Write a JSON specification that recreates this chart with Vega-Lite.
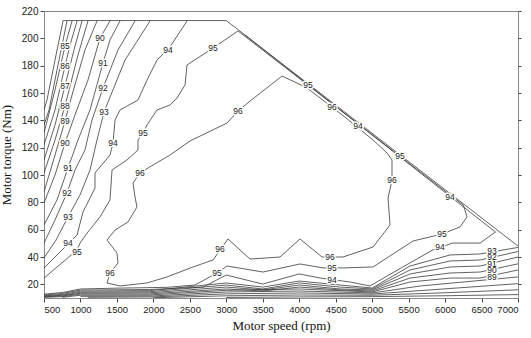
{
"$schema":"https://vega.github.io/schema/vega-lite/v6.json",
"width":474,"height":287,"autosize":"none",
"padding":{"left":44,"top":11,"right":13,"bottom":40},
"background":"white",
"config":{"view":{"stroke":"#888","strokeWidth":1},"axis":{"grid":false,"labelFont":"Liberation Sans","labelFontSize":10,"labelColor":"#222","tickColor":"#444","domainColor":"#888","titleFont":"Liberation Serif","titleFontSize":13,"titleFontWeight":"normal","titleColor":"#111"}},
"datasets":{
"lines":[
{"id":"env","i":0,"speed":760,"torque":213},{"id":"env","i":1,"speed":3000,"torque":213},{"id":"env","i":2,"speed":7000,"torque":48},
{"id":"c83","i":0,"speed":761,"torque":212.7},{"id":"c83","i":1,"speed":651,"torque":184.1},{"id":"c83","i":2,"speed":541,"torque":154.9},{"id":"c83","i":3,"speed":500,"torque":147.6},
{"id":"c84","i":0,"speed":815,"torque":212.7},{"id":"c84","i":1,"speed":692,"torque":180.5},{"id":"c84","i":2,"speed":569,"torque":147.6},{"id":"c84","i":3,"speed":500,"torque":136.6},
{"id":"c85","i":0,"speed":884,"torque":212.7},{"id":"c85","i":1,"speed":788,"torque":194.4},{"id":"c85","i":2,"speed":651,"torque":162.2},{"id":"c85","i":3,"speed":500,"torque":130.7},
{"id":"c86","i":0,"speed":953,"torque":212.7},{"id":"c86","i":1,"speed":857,"torque":195.1},{"id":"c86","i":2,"speed":788,"torque":179.8},{"id":"c86","i":3,"speed":651,"torque":147.6},{"id":"c86","i":4,"speed":500,"torque":122},
{"id":"c87","i":0,"speed":1021,"torque":212.7},{"id":"c87","i":1,"speed":911,"torque":191.5},{"id":"c87","i":2,"speed":788,"torque":165.1},{"id":"c87","i":3,"speed":651,"torque":136.6},{"id":"c87","i":4,"speed":500,"torque":111},
{"id":"c88","i":0,"speed":1103,"torque":212.7},{"id":"c88","i":1,"speed":966,"torque":187.8},{"id":"c88","i":2,"speed":788,"torque":150.5},{"id":"c88","i":3,"speed":651,"torque":125.6},{"id":"c88","i":4,"speed":500,"torque":101.5},
{"id":"c89","i":0,"speed":1227,"torque":212.7},{"id":"c89","i":1,"speed":1062,"torque":191.5},{"id":"c89","i":2,"speed":884,"torque":158.5},{"id":"c89","i":3,"speed":788,"torque":139.5},{"id":"c89","i":4,"speed":651,"torque":114.6},{"id":"c89","i":5,"speed":500,"torque":87.6},
{"id":"c90","i":0,"speed":1405,"torque":212.7},{"id":"c90","i":1,"speed":1268,"torque":200.2},{"id":"c90","i":2,"speed":1103,"torque":169.5},{"id":"c90","i":3,"speed":925,"torque":143.9},{"id":"c90","i":4,"speed":788,"torque":123.4},{"id":"c90","i":5,"speed":651,"torque":100},{"id":"c90","i":6,"speed":500,"torque":79.5},
{"id":"c91","i":0,"speed":1542,"torque":212.7},{"id":"c91","i":1,"speed":1405,"torque":198.8},{"id":"c91","i":2,"speed":1309,"torque":182},{"id":"c91","i":3,"speed":1131,"torque":147.6},{"id":"c91","i":4,"speed":966,"torque":125.6},{"id":"c91","i":5,"speed":829,"torque":105.1},{"id":"c91","i":6,"speed":678,"torque":81.7},{"id":"c91","i":7,"speed":500,"torque":63.4},
{"id":"c92","i":0,"speed":1748,"torque":212.7},{"id":"c92","i":1,"speed":1515,"torque":191.5},{"id":"c92","i":2,"speed":1309,"torque":163.7},{"id":"c92","i":3,"speed":1158,"torque":140.2},{"id":"c92","i":4,"speed":1062,"torque":118.3},{"id":"c92","i":5,"speed":925,"torque":103.7},{"id":"c92","i":6,"speed":815,"torque":86.8},{"id":"c92","i":7,"speed":651,"torque":67.1},{"id":"c92","i":8,"speed":500,"torque":50.2},
{"id":"c93","i":0,"speed":1954,"torque":212.7},{"id":"c93","i":1,"speed":1611,"torque":184.1},{"id":"c93","i":2,"speed":1323,"torque":146.1},{"id":"c93","i":3,"speed":1227,"torque":125.6},{"id":"c93","i":4,"speed":1131,"torque":103.7},{"id":"c93","i":5,"speed":994,"torque":85.4},{"id":"c93","i":6,"speed":829,"torque":69.3},{"id":"c93","i":7,"speed":665,"torque":52.4},{"id":"c93","i":8,"speed":500,"torque":39.3},
{"id":"c94","i":0,"speed":2461,"torque":212.7},{"id":"c94","i":1,"speed":2228,"torque":193.7},{"id":"c94","i":2,"speed":2050,"torque":184.1},{"id":"c94","i":3,"speed":1913,"torque":169.5},{"id":"c94","i":4,"speed":1789,"torque":154.9},{"id":"c94","i":5,"speed":1542,"torque":147.6},{"id":"c94","i":6,"speed":1474,"torque":140.2},{"id":"c94","i":7,"speed":1446,"torque":123.4},{"id":"c94","i":8,"speed":1405,"torque":114.6},{"id":"c94","i":9,"speed":1199,"torque":101.5},{"id":"c94","i":10,"speed":1199,"torque":90.5},{"id":"c94","i":11,"speed":1035,"torque":72.9},{"id":"c94","i":12,"speed":953,"torque":56.1},{"id":"c94","i":13,"speed":857,"torque":51},{"id":"c94","i":14,"speed":500,"torque":31.9},
{"id":"c95a","i":0,"speed":3160,"torque":205.4},{"id":"c95a","i":1,"speed":2818,"torque":192.9},{"id":"c95a","i":2,"speed":2461,"torque":180.5},{"id":"c95a","i":3,"speed":2434,"torque":165.9},{"id":"c95a","i":4,"speed":2324,"torque":156.3},{"id":"c95a","i":5,"speed":2228,"torque":151.2},{"id":"c95a","i":6,"speed":2050,"torque":147.6},{"id":"c95a","i":7,"speed":1913,"torque":136.6},{"id":"c95a","i":8,"speed":1858,"torque":130.7},{"id":"c95a","i":9,"speed":1789,"torque":125.6},{"id":"c95a","i":10,"speed":1789,"torque":118.3},{"id":"c95a","i":11,"speed":1638,"torque":111},{"id":"c95a","i":12,"speed":1433,"torque":103.7},{"id":"c95a","i":13,"speed":1405,"torque":81.7},{"id":"c95a","i":14,"speed":1268,"torque":69.3},{"id":"c95a","i":15,"speed":1103,"torque":58.3},{"id":"c95a","i":16,"speed":994,"torque":50.2},{"id":"c95a","i":17,"speed":953,"torque":45.1},{"id":"c95a","i":18,"speed":500,"torque":24.6},
{"id":"c95d","i":0,"speed":3160,"torque":205.4},{"id":"c95d","i":1,"speed":4000,"torque":170.7},{"id":"c95d","i":2,"speed":5000,"torque":129.5},{"id":"c95d","i":3,"speed":6000,"torque":88.2},{"id":"c95d","i":4,"speed":6250,"torque":78},{"id":"c95d","i":5,"speed":6301,"torque":69.3},{"id":"c95d","i":6,"speed":6205,"torque":62},{"id":"c95d","i":7,"speed":5959,"torque":56.8},{"id":"c95d","i":8,"speed":5560,"torque":51.7},{"id":"c95d","i":9,"speed":5012,"torque":32.7},{"id":"c95d","i":10,"speed":4600,"torque":32},{"id":"c95d","i":11,"speed":4326,"torque":32},{"id":"c95d","i":12,"speed":4011,"torque":34.9},{"id":"c95d","i":13,"speed":3503,"torque":29},{"id":"c95d","i":14,"speed":3010,"torque":33.4},{"id":"c95d","i":15,"speed":2872,"torque":28.3},{"id":"c95d","i":16,"speed":2571,"torque":19.5},{"id":"c95d","i":17,"speed":2187,"torque":17.8},{"id":"c95d","i":18,"speed":1500,"torque":17.2},{"id":"c95d","i":19,"speed":1000,"torque":16.6},{"id":"c95d","i":20,"speed":750,"torque":14},{"id":"c95d","i":21,"speed":500,"torque":12.8},
{"id":"c94L","i":0,"speed":3250,"torque":202.7},{"id":"c94L","i":1,"speed":6690,"torque":58.3},{"id":"c94L","i":2,"speed":6480,"torque":50.2},{"id":"c94L","i":3,"speed":6100,"torque":50.2},{"id":"c94L","i":4,"speed":5830,"torque":45.1},{"id":"c94L","i":5,"speed":5420,"torque":32.7},{"id":"c94L","i":6,"speed":4970,"torque":18.8},{"id":"c94L","i":7,"speed":4700,"torque":21.7},{"id":"c94L","i":8,"speed":4290,"torque":24.6},{"id":"c94L","i":9,"speed":4000,"torque":27.6},{"id":"c94L","i":10,"speed":3500,"torque":20.2},{"id":"c94L","i":11,"speed":3000,"torque":26.8},{"id":"c94L","i":12,"speed":2680,"torque":18},{"id":"c94L","i":13,"speed":1950,"torque":16.2},{"id":"c94L","i":14,"speed":1000,"torque":15.8},{"id":"c94L","i":15,"speed":750,"torque":13.3},{"id":"c94L","i":16,"speed":500,"torque":12.2},
{"id":"c93b","i":0,"speed":500,"torque":11.6},{"id":"c93b","i":1,"speed":750,"torque":12.6},{"id":"c93b","i":2,"speed":1000,"torque":15},{"id":"c93b","i":3,"speed":1950,"torque":15.4},{"id":"c93b","i":4,"speed":3000,"torque":21},{"id":"c93b","i":5,"speed":3500,"torque":18},{"id":"c93b","i":6,"speed":4000,"torque":22.4},{"id":"c93b","i":7,"speed":4560,"torque":19.5},{"id":"c93b","i":8,"speed":5000,"torque":17.3},{"id":"c93b","i":9,"speed":5520,"torque":33.4},{"id":"c93b","i":10,"speed":6070,"torque":41.5},{"id":"c93b","i":11,"speed":6480,"torque":42.2},{"id":"c93b","i":12,"speed":7000,"torque":47},
{"id":"c92b","i":0,"speed":500,"torque":11.2},{"id":"c92b","i":1,"speed":750,"torque":12},{"id":"c92b","i":2,"speed":1000,"torque":14.2},{"id":"c92b","i":3,"speed":1950,"torque":14.6},{"id":"c92b","i":4,"speed":3000,"torque":19.5},{"id":"c92b","i":5,"speed":3500,"torque":16.6},{"id":"c92b","i":6,"speed":4000,"torque":21},{"id":"c92b","i":7,"speed":4560,"torque":18},{"id":"c92b","i":8,"speed":5000,"torque":16.6},{"id":"c92b","i":9,"speed":5520,"torque":30.5},{"id":"c92b","i":10,"speed":6070,"torque":37.1},{"id":"c92b","i":11,"speed":6480,"torque":37.8},{"id":"c92b","i":12,"speed":7000,"torque":44},
{"id":"c91b","i":0,"speed":500,"torque":10.9},{"id":"c91b","i":1,"speed":750,"torque":11.5},{"id":"c91b","i":2,"speed":1000,"torque":13.5},{"id":"c91b","i":3,"speed":1950,"torque":13.8},{"id":"c91b","i":4,"speed":3000,"torque":18},{"id":"c91b","i":5,"speed":3500,"torque":15.9},{"id":"c91b","i":6,"speed":4000,"torque":19.5},{"id":"c91b","i":7,"speed":4560,"torque":16.6},{"id":"c91b","i":8,"speed":5000,"torque":15.9},{"id":"c91b","i":9,"speed":5520,"torque":27.6},{"id":"c91b","i":10,"speed":6070,"torque":32.7},{"id":"c91b","i":11,"speed":6480,"torque":33.4},{"id":"c91b","i":12,"speed":7000,"torque":40},
{"id":"c90b","i":0,"speed":500,"torque":10.5},{"id":"c90b","i":1,"speed":750,"torque":11},{"id":"c90b","i":2,"speed":1000,"torque":12.8},{"id":"c90b","i":3,"speed":1950,"torque":13},{"id":"c90b","i":4,"speed":3000,"torque":16.6},{"id":"c90b","i":5,"speed":3500,"torque":15.1},{"id":"c90b","i":6,"speed":4000,"torque":18},{"id":"c90b","i":7,"speed":4560,"torque":15.9},{"id":"c90b","i":8,"speed":5000,"torque":15.1},{"id":"c90b","i":9,"speed":5520,"torque":24.6},{"id":"c90b","i":10,"speed":6070,"torque":28.3},{"id":"c90b","i":11,"speed":6480,"torque":29},{"id":"c90b","i":12,"speed":7000,"torque":35},
{"id":"c89b","i":0,"speed":750,"torque":10.5},{"id":"c89b","i":1,"speed":1000,"torque":12},{"id":"c89b","i":2,"speed":1950,"torque":12.2},{"id":"c89b","i":3,"speed":3000,"torque":15.6},{"id":"c89b","i":4,"speed":4000,"torque":16.6},{"id":"c89b","i":5,"speed":5000,"torque":14.4},{"id":"c89b","i":6,"speed":5520,"torque":21.7},{"id":"c89b","i":7,"speed":6070,"torque":24.6},{"id":"c89b","i":8,"speed":6480,"torque":24.6},{"id":"c89b","i":9,"speed":7000,"torque":30.5},
{"id":"c88b","i":0,"speed":1000,"torque":11.2},{"id":"c88b","i":1,"speed":2000,"torque":11.5},{"id":"c88b","i":2,"speed":3000,"torque":14.4},{"id":"c88b","i":3,"speed":4000,"torque":15.1},{"id":"c88b","i":4,"speed":5000,"torque":13.7},{"id":"c88b","i":5,"speed":5660,"torque":18.8},{"id":"c88b","i":6,"speed":7000,"torque":25.4},
{"id":"c87b","i":0,"speed":1100,"torque":10.5},{"id":"c87b","i":1,"speed":2000,"torque":10.8},{"id":"c87b","i":2,"speed":3000,"torque":13},{"id":"c87b","i":3,"speed":4000,"torque":13.7},{"id":"c87b","i":4,"speed":5000,"torque":12.9},{"id":"c87b","i":5,"speed":5790,"torque":15.9},{"id":"c87b","i":6,"speed":7000,"torque":20.5},
{"id":"c86b","i":0,"speed":2000,"torque":10.2},{"id":"c86b","i":1,"speed":3000,"torque":11.6},{"id":"c86b","i":2,"speed":4000,"torque":12.2},{"id":"c86b","i":3,"speed":5000,"torque":12},{"id":"c86b","i":4,"speed":5930,"torque":13.7},{"id":"c86b","i":5,"speed":7000,"torque":16},
{"id":"c85b","i":0,"speed":3000,"torque":10.4},{"id":"c85b","i":1,"speed":4000,"torque":10.8},{"id":"c85b","i":2,"speed":5000,"torque":11},{"id":"c85b","i":3,"speed":6070,"torque":11.7},{"id":"c85b","i":4,"speed":7000,"torque":12.5},
{"id":"c96","i":0,"speed":4100,"torque":164},{"id":"c96","i":1,"speed":3764,"torque":172.4},{"id":"c96","i":2,"speed":3325,"torque":154.1},{"id":"c96","i":3,"speed":3160,"torque":146.8},{"id":"c96","i":4,"speed":3010,"torque":138},{"id":"c96","i":5,"speed":2502,"torque":124.9},{"id":"c96","i":6,"speed":2228,"torque":114.6},{"id":"c96","i":7,"speed":1995,"torque":107.3},{"id":"c96","i":8,"speed":1817,"torque":101.5},{"id":"c96","i":9,"speed":1721,"torque":94.1},{"id":"c96","i":10,"speed":1748,"torque":83.9},{"id":"c96","i":11,"speed":1775,"torque":76.6},{"id":"c96","i":12,"speed":1652,"torque":65.6},{"id":"c96","i":13,"speed":1474,"torque":59.7},{"id":"c96","i":14,"speed":1364,"torque":52.4},{"id":"c96","i":15,"speed":1501,"torque":42.9},{"id":"c96","i":16,"speed":1515,"torque":35.6},{"id":"c96","i":17,"speed":1405,"torque":28.3},{"id":"c96","i":18,"speed":1364,"torque":21},{"id":"c96","i":19,"speed":1542,"torque":18.8},{"id":"c96","i":20,"speed":1913,"torque":21},{"id":"c96","i":21,"speed":2187,"torque":25.4},{"id":"c96","i":22,"speed":2543,"torque":32.7},{"id":"c96","i":23,"speed":2818,"torque":37.8},{"id":"c96","i":24,"speed":3023,"torque":53.2},{"id":"c96","i":25,"speed":3325,"torque":38.5},{"id":"c96","i":26,"speed":3736,"torque":40},{"id":"c96","i":27,"speed":4011,"torque":53.2},{"id":"c96","i":28,"speed":4312,"torque":40},{"id":"c96","i":29,"speed":4600,"torque":40},{"id":"c96","i":30,"speed":5012,"torque":47.3},{"id":"c96","i":31,"speed":5245,"torque":63.4},{"id":"c96","i":32,"speed":5218,"torque":83.2},{"id":"c96","i":33,"speed":5272,"torque":96.3},{"id":"c96","i":34,"speed":5272,"torque":111},{"id":"c96","i":35,"speed":5204,"torque":116.1},{"id":"c96","i":36,"speed":5012,"torque":125.6},{"id":"c96","i":37,"speed":4600,"torque":143.5},{"id":"c96","i":38,"speed":4100,"torque":164}
],
"labels":[
{"level":85,"speed":788,"torque":194.4},{"level":86,"speed":788,"torque":179.8},{"level":87,"speed":788,"torque":165.1},{"level":88,"speed":788,"torque":150.5},{"level":89,"speed":788,"torque":139.5},{"level":90,"speed":788,"torque":123.4},{"level":91,"speed":829,"torque":105.1},{"level":92,"speed":815,"torque":86.8},{"level":93,"speed":829,"torque":69.3},{"level":94,"speed":829,"torque":50.2},{"level":95,"speed":953,"torque":44},
{"level":90,"speed":1268,"torque":200.2},{"level":91,"speed":1309,"torque":182},{"level":92,"speed":1309,"torque":163.7},{"level":93,"speed":1323,"torque":146.1},{"level":94,"speed":1446,"torque":123.4},{"level":95,"speed":1858,"torque":130.7},{"level":96,"speed":1817,"torque":101.5},
{"level":94,"speed":2201,"torque":191.5},{"level":95,"speed":2818,"torque":192.9},{"level":96,"speed":3160,"torque":146.8},{"level":96,"speed":1405,"torque":28.3},{"level":96,"speed":2914,"torque":46},{"level":95,"speed":2872,"torque":28.3},{"level":96,"speed":4422,"torque":40},{"level":95,"speed":4450,"torque":32},{"level":94,"speed":4450,"torque":23.2},{"level":96,"speed":5272,"torque":96.3},{"level":95,"speed":5959,"torque":56.8},{"level":94,"speed":5931,"torque":47.3},
{"level":95,"speed":4120,"torque":165.7},{"level":96,"speed":4450,"torque":149.6},{"level":94,"speed":4806,"torque":136},{"level":95,"speed":5382,"torque":113.7},{"level":94,"speed":6068,"torque":83.9},
{"level":93,"speed":6644,"torque":44.5},{"level":92,"speed":6644,"torque":39.8},{"level":91,"speed":6644,"torque":35.1},{"level":90,"speed":6644,"torque":30.4},{"level":89,"speed":6644,"torque":25.7}
]},
"layer":[
{"data":{"name":"lines"},"mark":{"type":"line","stroke":"#3a3a3a","strokeWidth":0.8,"clip":true},
 "encoding":{
  "x":{"field":"speed","type":"quantitative","scale":{"domain":[500,7000],"nice":false},"axis":{"values":[500,1000,1500,2000,2500,3000,3500,4000,4500,5000,5500,6000,6500,7000],"format":"d","labelOverlap":false,"labelFontSize":9.5,"title":"Motor speed (rpm)","tickSize":4,"labelPadding":2,"titlePadding":6}},
  "y":{"field":"torque","type":"quantitative","scale":{"domain":[10,220],"nice":false,"zero":false},"axis":{"values":[20,40,60,80,100,120,140,160,180,200,220],"format":"d","labelOverlap":false,"title":"Motor torque (Nm)","tickSize":4,"labelPadding":2,"titlePadding":8}},
  "detail":{"field":"id"},"order":{"field":"i","type":"quantitative"}}},
{"data":{"name":"labels"},"mark":{"type":"text","font":"Liberation Sans","fontSize":8.5,"stroke":"white","strokeWidth":3,"strokeJoin":"round","fill":"white"},
 "encoding":{"x":{"field":"speed","type":"quantitative","axis":null},"y":{"field":"torque","type":"quantitative","axis":null},"text":{"field":"level","type":"nominal"}}},
{"data":{"name":"labels"},"mark":{"type":"text","font":"Liberation Sans","fontSize":8.5,"fill":"#222"},
 "encoding":{"x":{"field":"speed","type":"quantitative","axis":null},"y":{"field":"torque","type":"quantitative","axis":null},"text":{"field":"level","type":"nominal"}}},
{"data":{"name":"labels"},"mark":{"type":"point","opacity":0},
 "encoding":{"x":{"field":"speed","type":"quantitative","axis":null},"y":{"field":"torque","type":"quantitative","axis":{"orient":"right","values":[20,40,60,80,100,120,140,160,180,200,220],"labels":false,"title":null,"tickSize":3,"domain":false}}}}
],
"resolve":{"axis":{"y":"independent","x":"independent"}}
}
